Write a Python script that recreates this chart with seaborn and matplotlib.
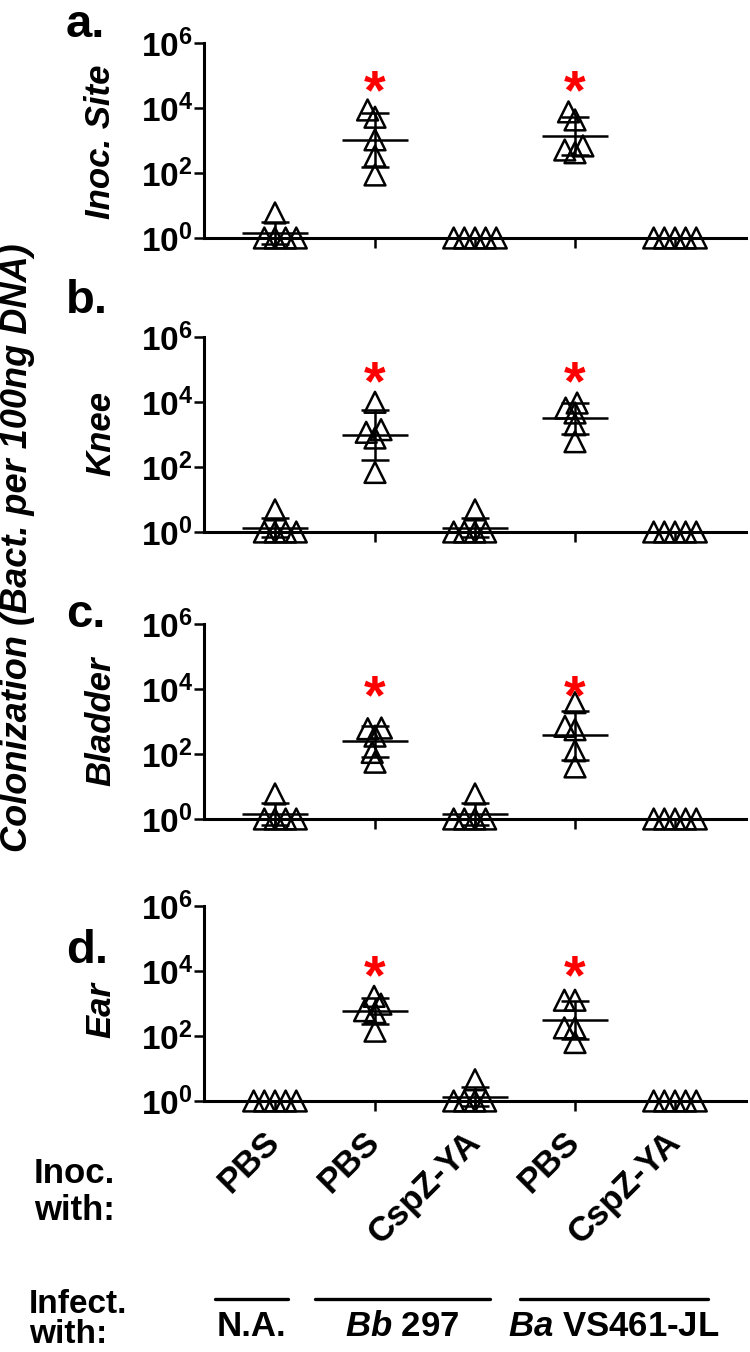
import numpy as np
import pandas as pd
import matplotlib
matplotlib.use("Agg")
import matplotlib.pyplot as plt
import matplotlib.transforms as mtransforms
from matplotlib.ticker import NullLocator
import seaborn as sns

# groups along the x axis (left to right)
groups = ["g1", "g2", "g3", "g4", "g5"]
inoc_labels = ["PBS", "PBS", "CspZ-YA", "PBS", "CspZ-YA"]
infect_labels = ["N.A.", r"$\mathit{Bb}$ 297", r"$\mathit{Ba}$ VS461-JL"]
tissues = ["Inoc. Site", "Knee", "Bladder", "Ear"]
panel_letters = ["a.", "b.", "c.", "d."]

# bacteria per 100ng DNA, 5 mice per group
inoc_site = [[5.9, 1, 1, 1, 1],
             [5200, 8700, 1050, 330, 87],
             [1, 1, 1, 1, 1],
             [7600, 4300, 680, 420, 510],
             [1, 1, 1, 1, 1]]
knee = [[4.8, 1, 1, 1, 1],
        [9800, 1170, 1410, 780, 68],
        [4.8, 1, 1, 1, 1],
        [9300, 6500, 4600, 2000, 600],
        [1, 1, 1, 1, 1]]
bladder = [[5.9, 1, 1, 1, 1],
           [630, 600, 355, 112, 56],
           [5.9, 1, 1, 1, 1],
           [3800, 710, 560, 126, 40],
           [1, 1, 1, 1, 1]]
ear = [[1, 1, 1, 1, 1],
       [1660, 600, 955, 525, 141],
       [4.5, 1, 1, 1, 1],
       [1260, 1260, 178, 178, 63],
       [1, 1, 1, 1, 1]]

star_groups = ["g2", "g4"]
star_level = [5.9e4, 7.2e4, 1.1e4, 1.25e4]

rows = []
for tissue, vals in zip(tissues, [inoc_site, knee, bladder, ear]):
    for g, v in zip(groups, vals):
        for x in v:
            rows.append({"tissue": tissue, "group": g, "value": x})
df = pd.DataFrame(rows)

sns.set_style("ticks")
plt.rcParams["font.family"] = ["Liberation Sans", "DejaVu Sans"]
plt.rcParams["font.weight"] = "bold"
plt.rcParams["mathtext.fontset"] = "custom"
plt.rcParams["mathtext.rm"] = "Liberation Sans:bold"
plt.rcParams["mathtext.bf"] = "Liberation Sans:bold"
plt.rcParams["mathtext.it"] = "Liberation Sans:bold:italic"
plt.rcParams["axes.linewidth"] = 2.2
for key in ["text.color", "axes.labelcolor", "axes.edgecolor", "xtick.color", "ytick.color"]:
    plt.rcParams[key] = "black"

W, H = 750, 1352
fig = plt.figure(figsize=(W / 100, H / 100), dpi=100)

panel_top = [43, 337, 624, 906]
panel_h = 195
axes = []
for top in panel_top:
    axes.append(fig.add_axes([204 / W, 1 - (top + panel_h) / H, 542 / W, panel_h / H]))

for k, ax in enumerate(axes):
    sub = df[df["tissue"] == tissues[k]]
    sns.swarmplot(data=sub, x="group", y="value", order=groups, ax=ax,
                  marker="^", size=5.5, linewidth=1.8, edgecolor="black",
                  color="black", log_scale=True)
    ax.set_ylim(1, 1e6)
    ax.set_xlim(-0.71, 4.71)

# let seaborn place the swarm, then freeze positions and enlarge markers
fig.canvas.draw()
for ax in axes:
    for c in ax.collections:
        if "draw" in c.__dict__:
            del c.draw
        c.set_sizes([15 ** 2])
        c.set_facecolor("none")
        c.set_edgecolor("black")
        c.set_linewidth(1.8)
        c.set_clip_on(False)
        c.set_zorder(3)

ylabel_center = [142, 433, 721, 1010]
for k, ax in enumerate(axes):
    sub = df[df["tissue"] == tissues[k]]
    for i, g in enumerate(groups):
        logs = np.log10(sub.loc[sub["group"] == g, "value"].to_numpy())
        m = logs.mean()
        s = logs.std(ddof=1)
        ax.hlines(10 ** m, i - 0.33, i + 0.33, color="black", lw=1.8,
                  clip_on=False, zorder=4)
        if s > 0:
            ax.errorbar(i, 10 ** m, yerr=[[10 ** m - 10 ** (m - s)], [10 ** (m + s) - 10 ** m]],
                        fmt="none", ecolor="black", elinewidth=1.8, capsize=10,
                        capthick=1.8, clip_on=False, zorder=4)
        if g in star_groups:
            ax.annotate("*", (i, star_level[k]), xytext=(0, -8), textcoords="offset points",
                        color="#ff0000", fontsize=40, fontweight="bold",
                        ha="center", va="center")

    ax.set_xlabel("")
    ax.set_ylabel("")
    ax.spines[["top", "right"]].set_visible(False)
    ax.set_yticks([1, 1e2, 1e4, 1e6],
                  labels=[r"$10^{0}$", r"$10^{2}$", r"$10^{4}$", r"$10^{6}$"])
    ax.yaxis.set_minor_locator(NullLocator())
    ax.set_xticks(range(len(groups)))
    ax.tick_params(axis="y", length=7, width=1.8, labelsize=24, pad=1)
    ax.tick_params(axis="x", length=7, width=1.8, labelsize=25, pad=19)
    if k < 3:
        ax.set_xticklabels([])
    else:
        ax.set_xticklabels(inoc_labels)
        for lab in ax.get_xticklabels():
            lab.set_rotation(45)
            lab.set_ha("right")
            lab.set_va("center")
            lab.set_rotation_mode("anchor")
            lab.set_fontweight("bold")

    fig.text(101 / W, 1 - ylabel_center[k] / H, tissues[k], rotation=90,
             ha="center", va="center", fontsize=25, fontstyle="italic",
             fontweight="bold")

letter_base = [37, 313, 627, 963]
for k, lt in enumerate(panel_letters):
    fig.text(66 / W, 1 - letter_base[k] / H, lt, fontsize=34, fontweight="bold",
             ha="left", va="baseline")

fig.text(18 / W, 1 - 548 / H, "Colonization (Bact. per 100ng DNA)", rotation=90,
         ha="center", va="center", fontsize=26, fontstyle="italic", fontweight="bold")

fig.text(34 / W, 1 - 1157 / H, "Inoc.\nwith:", ha="left", va="top", fontsize=25,
         fontweight="bold", linespacing=1.15)
fig.text(29 / W, 1 - 1289 / H, "Infect.\nwith:", ha="left", va="top", fontsize=24,
         fontweight="bold", linespacing=0.95)

# infection strain brackets below the bottom panel
ax = axes[-1]
trans = mtransforms.blended_transform_factory(ax.transData, fig.transFigure)
spans = [(-0.6, 0.13), (0.4, 2.15), (2.45, 4.33)]
for (x0, x1), lab in zip(spans, infect_labels):
    ax.plot([x0, x1], [1 - 1299 / H, 1 - 1299 / H], color="black", lw=2.4,
            transform=trans, clip_on=False)
    fig.text(0, 0, lab, transform=trans, ha="center", va="center", fontsize=25,
             fontweight="bold").set_position(((x0 + x1) / 2, 1 - 1327 / H))

fig.savefig("out.png", dpi=100)
